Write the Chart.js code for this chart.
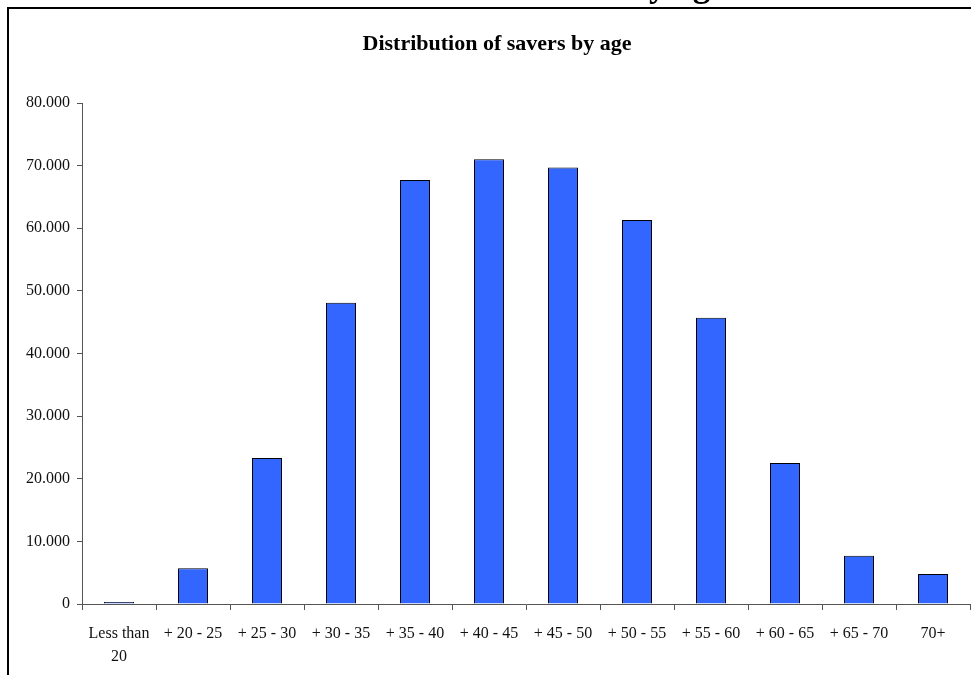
<!DOCTYPE html>
<html>
<head>
<meta charset="utf-8">
<title>Distribution of savers by age</title>
<script src="https://cdn.jsdelivr.net/npm/chart.js@4/dist/chart.umd.min.js"></script>
<style>
  html, body { margin: 0; padding: 0; background: #ffffff; }
  #wrap { position: relative; width: 971px; height: 675px; }
</style>
</head>
<body>
<div id="wrap"><canvas id="chart" width="971" height="675"></canvas></div>
<script>
// Age bands and number of savers in each band
const ageBands = [
  ['Less than', '20'], '+ 20 - 25', '+ 25 - 30', '+ 30 - 35', '+ 35 - 40', '+ 40 - 45',
  '+ 45 - 50', '+ 50 - 55', '+ 55 - 60', '+ 60 - 65', '+ 65 - 70', '70+'
];
const savers = [300, 5700, 23300, 48100, 67700, 71000, 69700, 61300, 45700, 22500, 7700, 4800];

// Value axis range
const yMin = 0;
const yMax = 80000;
const yStep = 10000;

const chartTitle = 'Distribution of savers by age';
const serif = "'Liberation Serif', 'Times New Roman', serif";

// Page frame and the heading that runs off the top edge
const framePlugin = {
  id: 'frame',
  afterDraw(chart) {
    const ctx = chart.ctx;
    ctx.save();
    ctx.strokeStyle = '#000000';
    ctx.lineWidth = 2;
    ctx.beginPath();
    ctx.moveTo(8, 700);
    ctx.lineTo(8, 8);
    ctx.lineTo(1000, 8);
    ctx.stroke();
    ctx.fillStyle = '#000000';
    ctx.font = 'bold 35px ' + serif;
    ctx.textAlign = 'center';
    ctx.textBaseline = 'alphabetic';
    ctx.fillText(chartTitle, 512, -4);
    ctx.restore();
  }
};

const fmt = v => v === 0 ? '0' : (v / 1000).toFixed(3);

new Chart(document.getElementById('chart'), {
  type: 'bar',
  data: {
    labels: ageBands,
    datasets: [{
      data: savers,
      backgroundColor: '#3366FF',
      borderColor: '#000000',
      borderWidth: 1,
      categoryPercentage: 1.0,
      barPercentage: 0.405
    }]
  },
  options: {
    responsive: false,
    animation: false,
    layout: { padding: { left: 24, right: 1, top: 0, bottom: 0 } },
    plugins: {
      legend: { display: false },
      tooltip: { enabled: false },
      title: {
        display: true,
        text: chartTitle,
        color: '#000000',
        font: { family: serif, size: 22, weight: 'bold', lineHeight: 1.2 },
        padding: { top: 31, bottom: 45.6 }
      }
    },
    scales: {
      x: {
        offset: true,
        grid: {
          offset: true,
          drawOnChartArea: false,
          drawTicks: true,
          tickLength: 6,
          color: '#555555'
        },
        border: { display: true, color: '#555555', width: 1 },
        ticks: {
          color: '#111111',
          font: { family: serif, size: 16, lineHeight: 1.45 },
          padding: 12,
          maxRotation: 0,
          autoSkip: false
        },
        afterFit(scale) { scale.height = 71; }
      },
      y: {
        min: yMin,
        max: yMax,
        grid: {
          drawOnChartArea: false,
          drawTicks: true,
          tickLength: 5,
          color: '#555555'
        },
        border: { display: true, color: '#555555', width: 1 },
        ticks: {
          stepSize: yStep,
          color: '#111111',
          font: { family: serif, size: 16 },
          padding: 7,
          callback: v => fmt(v)
        },
        afterFit(scale) { scale.width = 58; }
      }
    }
  },
  plugins: [framePlugin]
});
</script>
</body>
</html>
